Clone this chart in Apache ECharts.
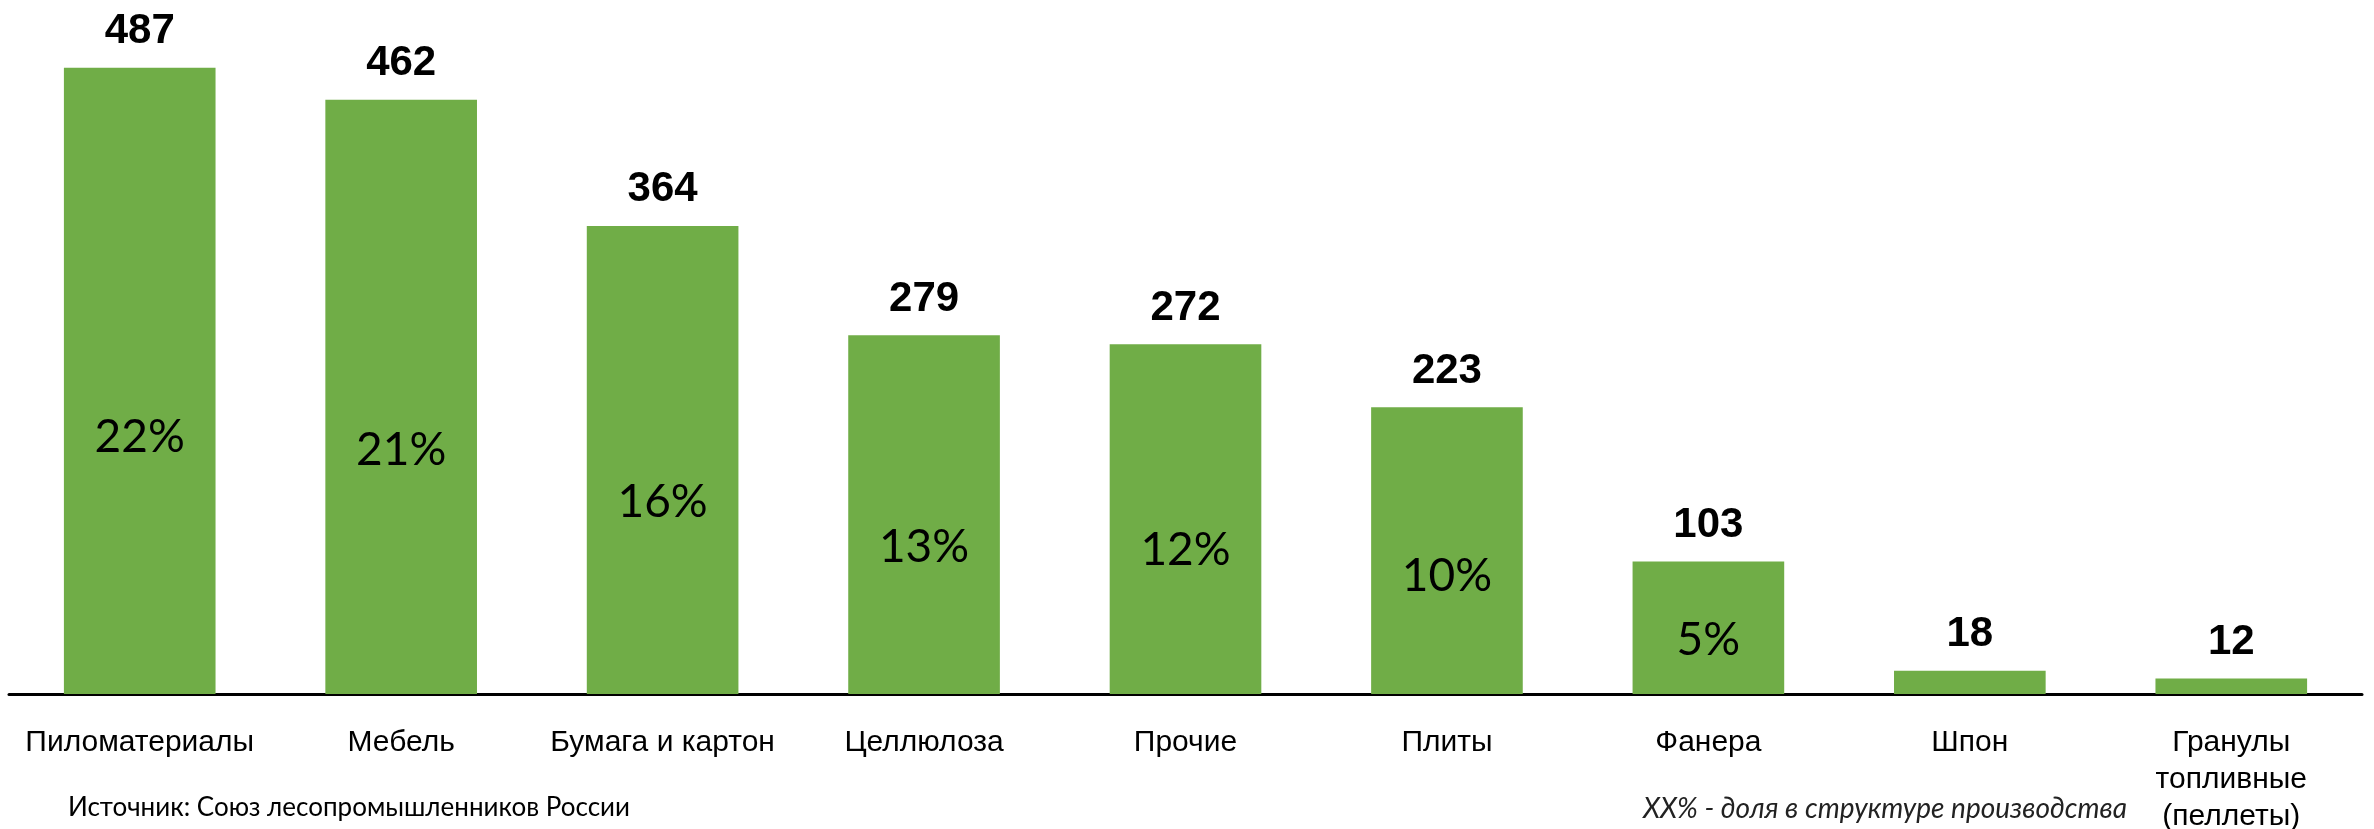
<!DOCTYPE html>
<html>
<head>
<meta charset="utf-8">
<script src="https://cdn.jsdelivr.net/npm/echarts@6/dist/echarts.min.js"></script>
<style>
  html, body { margin: 0; padding: 0; background: #fff; }
  #main { width: 2374px; height: 829px; }
</style>
</head>
<body>
<div id="main"></div>
<script>
const categories = ['Пиломатериалы', 'Мебель', 'Бумага и картон', 'Целлюлоза', 'Прочие', 'Плиты', 'Фанера', 'Шпон', 'Гранулы\nтопливные\n(пеллеты)']
const values = [487, 462, 364, 279, 272, 223, 103, 18, 12]
const shares = [22, 21, 16, 13, 12, 10, 5, null, null]

const chartDom = document.getElementById('main')
const myChart = echarts.init(chartDom)

const option = {
  animation: false,
  grid: {
    left: 9,
    right: 12,
    top: 51,
    bottom: 135,
    outerBoundsMode: 'none'
  },
  xAxis: {
    type: 'category',
    data: categories,
    axisLine: { lineStyle: { color: '#000', width: 3 } },
    axisTick: { show: false },
    axisLabel: {
      color: '#000',
      fontFamily: 'Liberation Sans',
      fontSize: 30,
      lineHeight: 37,
      margin: 30,
      interval: 0,
      verticalAlign: 'top'
    }
  },
  yAxis: {
    type: 'value',
    min: 0,
    max: 500,
    show: false,
    splitLine: { show: false }
  },
  series: [
    {
      name: 'Объём',
      type: 'bar',
      barWidth: '58%',
      data: values,
      itemStyle: { color: '#70AD47' },
      label: {
        show: true,
        position: 'top',
        distance: 15,
        color: '#000',
        fontFamily: 'Liberation Sans',
        fontWeight: 'bold',
        fontSize: 42
      }
    },
    {
      name: 'Доля',
      type: 'bar',
      barWidth: '58%',
      barGap: '-100%',
      data: values,
      itemStyle: { color: 'transparent' },
      label: {
        show: true,
        position: ['50%', '59%'],
        align: 'center',
        verticalAlign: 'middle',
        color: '#000',
        fontFamily: 'Lato',
        fontSize: 46,
        formatter: p => shares[p.dataIndex] == null ? '' : shares[p.dataIndex] + '%'
      }
    }
  ],
  graphic: [
    {
      type: 'text',
      left: 68,
      top: 795,
      style: {
        text: 'Источник: Союз лесопромышленников России',
        fontFamily: 'Lato',
        fontSize: 26,
        fill: '#000'
      }
    },
    {
      type: 'text',
      left: 1643,
      top: 795,
      style: {
        text: 'XX% - доля в структуре производства',
        fontFamily: 'Lato',
        fontStyle: 'italic',
        fontSize: 28,
        fill: '#222'
      }
    }
  ]
}

myChart.setOption(option)
</script>
</body>
</html>
